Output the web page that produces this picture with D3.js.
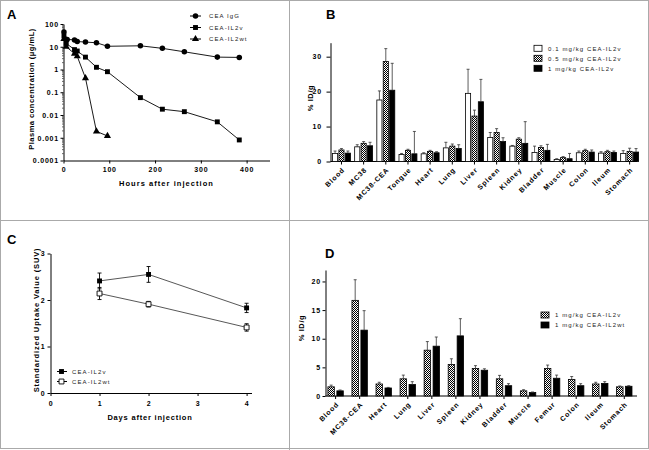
<!DOCTYPE html>
<html>
<head>
<meta charset="utf-8">
<script src="https://cdn.jsdelivr.net/npm/d3@7"></script>
<style>
body{margin:0;background:#fff}
svg{display:block}
svg text{font-family:"Liberation Sans",Arial,sans-serif;fill:#000}
.tick text{font-weight:bold;font-size:7px;letter-spacing:0.8px}
.title{font-weight:bold;font-size:7.5px}
.leg{font-size:6px;letter-spacing:1.1px;fill:#222}
.cat{font-weight:bold;font-size:7px;letter-spacing:0.9px}
.letter{font-weight:bold;font-size:13px}
</style>
</head>
<body>
<script>
// ---- panel A : plasma concentration (log) ----
const aXTicks = [0, 100, 200, 300, 400];
const aYTicks = [0.0001, 0.001, 0.01, 0.1, 1, 10, 100];
const igGHours = [1, 8, 24, 30, 48, 72, 96, 168, 216, 264, 336, 384];
const igGConc = [45, 21, 20, 17, 16, 15, 10.5, 11, 8.5, 6, 3.5, 3.4];
const il2vHours = [1, 6, 24, 30, 48, 72, 96, 168, 216, 264, 336, 384];
const il2vConc = [30, 14, 7.5, 6.5, 3.5, 1.25, 0.8, 0.058, 0.018, 0.014, 0.005, 0.0008];
const il2wtHours = [1, 6, 24, 30, 48, 72, 96];
const il2wtConc = [22, 10, 5, 3.8, 0.42, 0.0019, 0.0012];

// ---- panel B : biodistribution, 3 doses ----
const bCategories = ['Blood', 'MC38', 'MC38-CEA', 'Tongue', 'Heart', 'Lung', 'Liver', 'Spleen', 'Kidney', 'Bladder', 'Muscle', 'Colon', 'Ileum', 'Stomach'];
const bYTicks = [0, 10, 20, 30];
const bLow = [2.3, 4.2, 17.6, 2.0, 2.2, 3.9, 19.5, 6.9, 4.4, 2.6, 0.6, 2.5, 2.4, 2.3];
const bLowErr = [0.7, 0.6, 2.6, 0.3, 0.3, 1.6, 6.9, 1.4, 0.2, 1.8, 0.2, 0.5, 0.4, 0.8];
const bMid = [3.3, 5.2, 28.6, 3.2, 2.9, 4.4, 13.0, 8.3, 6.4, 4.0, 1.1, 3.1, 2.8, 2.9];
const bMidErr = [0.4, 0.5, 3.7, 0.3, 0.3, 0.6, 1.7, 1.1, 0.4, 0.5, 0.3, 0.4, 0.4, 0.9];
const bHigh = [2.4, 4.5, 20.4, 2.2, 2.5, 3.7, 17.1, 5.7, 5.2, 3.2, 0.8, 2.7, 2.6, 2.7];
const bHighErr = [0.6, 1.0, 7.7, 6.4, 0.3, 1.1, 6.4, 1.1, 6.2, 1.7, 1.5, 0.6, 0.4, 1.0];
const bLegend = ['0.1 mg/kg CEA-IL2v', '0.5 mg/kg CEA-IL2v', '1 mg/kg CEA-IL2v'];

// ---- panel C : SUV ----
const cXTicks = [0, 1, 2, 3, 4];
const cYTicks = [0, 1, 2, 3];
const cDays = [1, 2, 4];
const cIL2v = [2.41, 2.55, 1.83];
const cIL2vErr = [0.17, 0.17, 0.1];
const cIL2wt = [2.14, 1.91, 1.41];
const cIL2wtErr = [0.13, 0.06, 0.08];

// ---- panel D : biodistribution, v vs wt ----
const dCategories = ['Blood', 'MC38-CEA', 'Heart', 'Lung', 'Liver', 'Spleen', 'Kidney', 'Bladder', 'Muscle', 'Femur', 'Colon', 'Ileum', 'Stomach'];
const dYTicks = [0, 5, 10, 15, 20];
const dIL2v = [1.6, 16.7, 2.1, 3.0, 8.0, 5.5, 4.8, 3.0, 0.9, 4.8, 2.9, 2.1, 1.6];
const dIL2vErr = [0.3, 3.6, 0.3, 0.65, 1.5, 1.0, 0.5, 0.6, 0.2, 0.6, 0.5, 0.3, 0.15];
const dIL2wt = [0.9, 11.5, 1.4, 2.0, 8.7, 10.5, 4.5, 1.8, 0.6, 3.1, 1.8, 2.2, 1.7];
const dIL2wtErr = [0.15, 3.4, 0.1, 0.5, 1.6, 3.0, 0.25, 0.35, 0.1, 0.55, 0.35, 0.3, 0.1];
const dLegend = ['1 mg/kg CEA-IL2v', '1 mg/kg CEA-IL2wt'];

let svg = d3.select('body').append('svg')
    .attr('width', 649)
    .attr('height', 450);

let defs = svg.append('defs');
let pat = defs.append('pattern').attr('id', 'check')
    .attr('patternUnits', 'userSpaceOnUse').attr('width', 2).attr('height', 2);
pat.append('rect').attr('width', 2).attr('height', 2).attr('fill', '#fff');
pat.append('rect').attr('width', 1).attr('height', 1).attr('fill', '#000');
pat.append('rect').attr('x', 1).attr('y', 1).attr('width', 1).attr('height', 1).attr('fill', '#000');

// frame
svg.append('rect').attr('x', 0.5).attr('y', 0.5).attr('width', 648).attr('height', 448)
    .attr('fill', 'none').attr('stroke', '#aaa');
svg.append('line').attr('x1', 289.5).attr('x2', 289.5).attr('y1', 0).attr('y2', 450).attr('stroke', '#aaa');
svg.append('line').attr('x1', 0).attr('x2', 649).attr('y1', 220.5).attr('y2', 220.5).attr('stroke', '#aaa');

function letter(t, x, y){
    svg.append('text').attr('class', 'letter').attr('x', x).attr('y', y).text(t);
}

function yTitle(g, t, x, y, ls){
    g.append('text').attr('class', 'title')
        .attr('transform', `translate(${x},${y}) rotate(-90)`)
        .attr('text-anchor', 'middle')
        .style('letter-spacing', ls + 'px')
        .text(t);
}

function xTitle(g, t, x, y, ls){
    g.append('text').attr('class', 'title')
        .attr('x', x).attr('y', y)
        .attr('text-anchor', 'middle')
        .style('letter-spacing', ls + 'px')
        .text(t);
}

function marker(g, shape, x, y, open){
    let sym = shape === 'circle' ? d3.symbolCircle : shape === 'square' ? d3.symbolSquare : d3.symbolTriangle;
    let size = shape === 'circle' ? 24 : shape === 'square' ? 24 : 22;
    g.append('path')
        .attr('d', d3.symbol().type(sym).size(size)())
        .attr('transform', `translate(${x},${y})`)
        .attr('fill', open ? '#fff' : '#000')
        .attr('stroke', '#000')
        .attr('stroke-width', open ? 0.9 : 0);
}

// ================= A =================
function panelA(){
    let g = svg.append('g');
    let x = d3.scaleLinear().domain([0, 450]).range([63.5, 269.5]);
    let y = d3.scaleLog().domain([0.0001, 100]).range([160.5, 24]);

    g.append('g').attr('transform', `translate(0,${y(0.0001)})`)
        .call(d3.axisBottom(x).tickValues(aXTicks).tickSize(3).tickSizeOuter(0).tickPadding(3.5));
    g.append('g').attr('transform', `translate(${x(0)},0)`)
        .call(d3.axisLeft(y).tickValues(aYTicks).tickFormat(d => String(d)).tickSize(3).tickSizeOuter(0).tickPadding(1.5));

    // minor log ticks
    let minors = [];
    aYTicks.slice(0, -1).forEach(d => { for(let k = 2; k < 10; k++) minors.push(d * k); });
    g.selectAll('line.minor').data(minors).enter().append('line')
        .attr('x1', x(0) - 1.5).attr('x2', x(0))
        .attr('y1', d => y(d)).attr('y2', d => y(d))
        .attr('stroke', '#000').attr('stroke-width', 0.6);

    let series = [
        {h: igGHours, c: igGConc, shape: 'circle', name: 'CEA IgG'},
        {h: il2vHours, c: il2vConc, shape: 'square', name: 'CEA-IL2v'},
        {h: il2wtHours, c: il2wtConc, shape: 'triangle', name: 'CEA-IL2wt'}
    ];
    let line = d3.line().x(d => x(d[0])).y(d => y(d[1]));
    series.forEach((s, i) => {
        let pts = s.h.map((h, j) => [h, s.c[j]]);
        g.append('path').attr('d', line(pts)).attr('fill', 'none').attr('stroke', '#000').attr('stroke-width', 0.9);
        pts.forEach(p => marker(g, s.shape, x(p[0]), y(p[1])));
        // legend
        let ly = 16 + i * 11.5;
        g.append('line').attr('x1', 190).attr('x2', 201).attr('y1', ly).attr('y2', ly).attr('stroke', '#000');
        marker(g, s.shape, 195.5, ly);
        g.append('text').attr('class', 'leg').attr('x', 209).attr('y', ly + 2.2).text(s.name);
    });

    xTitle(g, 'Hours after injection', 166.5, 185.5, 1.05);
    yTitle(g, 'Plasma concentration (μg/mL)', 33.5, 89, 0.5);
}

// ================= bars (B, D) =================
function barPanel(p){
    let g = svg.append('g');
    let x0 = d3.scaleBand().domain(p.cats).range(p.xRange).paddingInner(p.pi).paddingOuter(p.po);
    let x1 = d3.scaleBand().domain(d3.range(p.series.length)).range([0, x0.bandwidth()]).paddingInner(p.si);
    let y = d3.scaleLinear().domain(p.yDom).range(p.yRange);
    let base = y(0);

    g.append('g').attr('transform', `translate(${p.xRange[0]},0)`)
        .call(d3.axisLeft(y).tickValues(p.yTicks).tickSize(p.tickSize).tickSizeOuter(0).tickPadding(p.tickPad));
    g.append('line').attr('x1', p.xRange[0]).attr('x2', p.xEnd)
        .attr('y1', base).attr('y2', base).attr('stroke', '#000');

    g.selectAll('line.xt').data(p.cats).enter().append('line')
        .attr('x1', c => x0(c) + x0.bandwidth() / 2).attr('x2', c => x0(c) + x0.bandwidth() / 2)
        .attr('y1', base).attr('y2', base + 3).attr('stroke', '#000');

    g.selectAll('text.cat').data(p.cats).enter().append('text')
        .attr('class', 'cat')
        .attr('text-anchor', 'end')
        .attr('dy', '0.35em')
        .attr('transform', c => `translate(${x0(c) + x0.bandwidth() / 2 + 2},${base + 7}) rotate(-45)`)
        .text(c => c);

    p.series.forEach((s, i) => {
        let bw = x1.bandwidth();
        g.selectAll(null).data(p.cats).enter().append('rect')
            .attr('x', c => x0(c) + x1(i))
            .attr('y', (c, j) => y(s.values[j]))
            .attr('width', bw)
            .attr('height', (c, j) => base - y(s.values[j]))
            .attr('fill', s.fill)
            .attr('stroke', '#000')
            .attr('stroke-width', 0.8);
        let eg = g.append('g').attr('stroke', '#333').attr('stroke-width', 0.8);
        p.cats.forEach((c, j) => {
            let cx = x0(c) + x1(i) + bw / 2;
            let top = y(s.values[j] + s.err[j]);
            eg.append('line').attr('x1', cx).attr('x2', cx).attr('y1', y(s.values[j])).attr('y2', top);
            eg.append('line').attr('x1', cx - 1.5).attr('x2', cx + 1.5).attr('y1', top).attr('y2', top);
        });
        // legend
        let ly = p.legY + i * p.legStep;
        g.append('rect').attr('x', p.legX).attr('y', ly - 3).attr('width', 8).attr('height', 6)
            .attr('fill', s.fill).attr('stroke', '#000').attr('stroke-width', 0.8);
        g.append('text').attr('class', 'leg').attr('x', p.legX + 14).attr('y', ly + 2.2).text(s.name);
    });

    yTitle(g, '% ID/g', p.yTitleX, p.yTitleY, 0.6);
}

// ================= C =================
function panelC(){
    let g = svg.append('g');
    let x = d3.scaleLinear().domain([0, 4.1]).range([50.5, 251.5]);
    let y = d3.scaleLinear().domain([0, 3]).range([393, 253.5]);

    g.append('g').attr('transform', `translate(0,${y(0)})`)
        .call(d3.axisBottom(x).tickValues(cXTicks).tickFormat(d3.format('d')).tickSize(3).tickSizeOuter(0).tickPadding(5));
    g.append('g').attr('transform', `translate(${x(0)},0)`)
        .call(d3.axisLeft(y).tickValues(cYTicks).tickFormat(d3.format('d')).tickSize(3).tickSizeOuter(0).tickPadding(2));

    let series = [
        {v: cIL2v, e: cIL2vErr, open: false, name: 'CEA-IL2v'},
        {v: cIL2wt, e: cIL2wtErr, open: true, name: 'CEA-IL2wt'}
    ];
    let line = d3.line().x(d => x(d[0])).y(d => y(d[1]));
    series.forEach((s, i) => {
        let pts = cDays.map((d, j) => [d, s.v[j], s.e[j]]);
        g.append('path').attr('d', line(pts)).attr('fill', 'none').attr('stroke', '#444').attr('stroke-width', 0.9);
        pts.forEach(p => {
            let cx = x(p[0]), t = y(p[1] + p[2]), b = y(p[1] - p[2]);
            g.append('line').attr('x1', cx).attr('x2', cx).attr('y1', t).attr('y2', b).attr('stroke', '#000').attr('stroke-width', 0.9);
            g.append('line').attr('x1', cx - 2).attr('x2', cx + 2).attr('y1', t).attr('y2', t).attr('stroke', '#000').attr('stroke-width', 0.9);
            g.append('line').attr('x1', cx - 2).attr('x2', cx + 2).attr('y1', b).attr('y2', b).attr('stroke', '#000').attr('stroke-width', 0.9);
            marker(g, 'square', cx, y(p[1]), s.open);
        });
        let ly = 371.5 + i * 10;
        g.append('line').attr('x1', 57).attr('x2', 67).attr('y1', ly).attr('y2', ly).attr('stroke', '#000');
        marker(g, 'square', 61.5, ly, s.open);
        g.append('text').attr('class', 'leg').attr('x', 72).attr('y', ly + 2.2).text(s.name);
    });

    xTitle(g, 'Days after injection', 150, 419.5, 0.8);
    yTitle(g, 'Standardized Uptake Value (SUV)', 39, 320, 0.85);
}

panelA();

barPanel({
    cats: bCategories,
    series: [
        {values: bLow, err: bLowErr, fill: '#fff', name: bLegend[0]},
        {values: bMid, err: bMidErr, fill: 'url(#check)', name: bLegend[1]},
        {values: bHigh, err: bHighErr, fill: '#000', name: bLegend[2]}
    ],
    xRange: [330.5, 640.6], xEnd: 637, pi: 0.19, po: 0.09, si: 0.2,
    yDom: [0, 34], yRange: [161.5, 42.7], yTicks: bYTicks, tickSize: 4, tickPad: 4.5,
    legX: 534, legY: 48.3, legStep: 10,
    yTitleX: 312.5, yTitleY: 98
});

panelC();

barPanel({
    cats: dCategories,
    series: [
        {values: dIL2v, err: dIL2vErr, fill: 'url(#check)', name: dLegend[0]},
        {values: dIL2wt, err: dIL2wtErr, fill: '#000', name: dLegend[1]}
    ],
    xRange: [325.5, 634.4], xEnd: 637, pi: 0.36, po: 0.1, si: 0.28,
    yDom: [0, 22], yRange: [396, 270], yTicks: dYTicks, tickSize: 3, tickPad: 1.5,
    legX: 541, legY: 315, legStep: 10,
    yTitleX: 304, yTitleY: 328
});

letter('A', 7, 19);
letter('B', 326, 18.5);
letter('C', 7, 244);
letter('D', 325, 258);
</script>
</body>
</html>
